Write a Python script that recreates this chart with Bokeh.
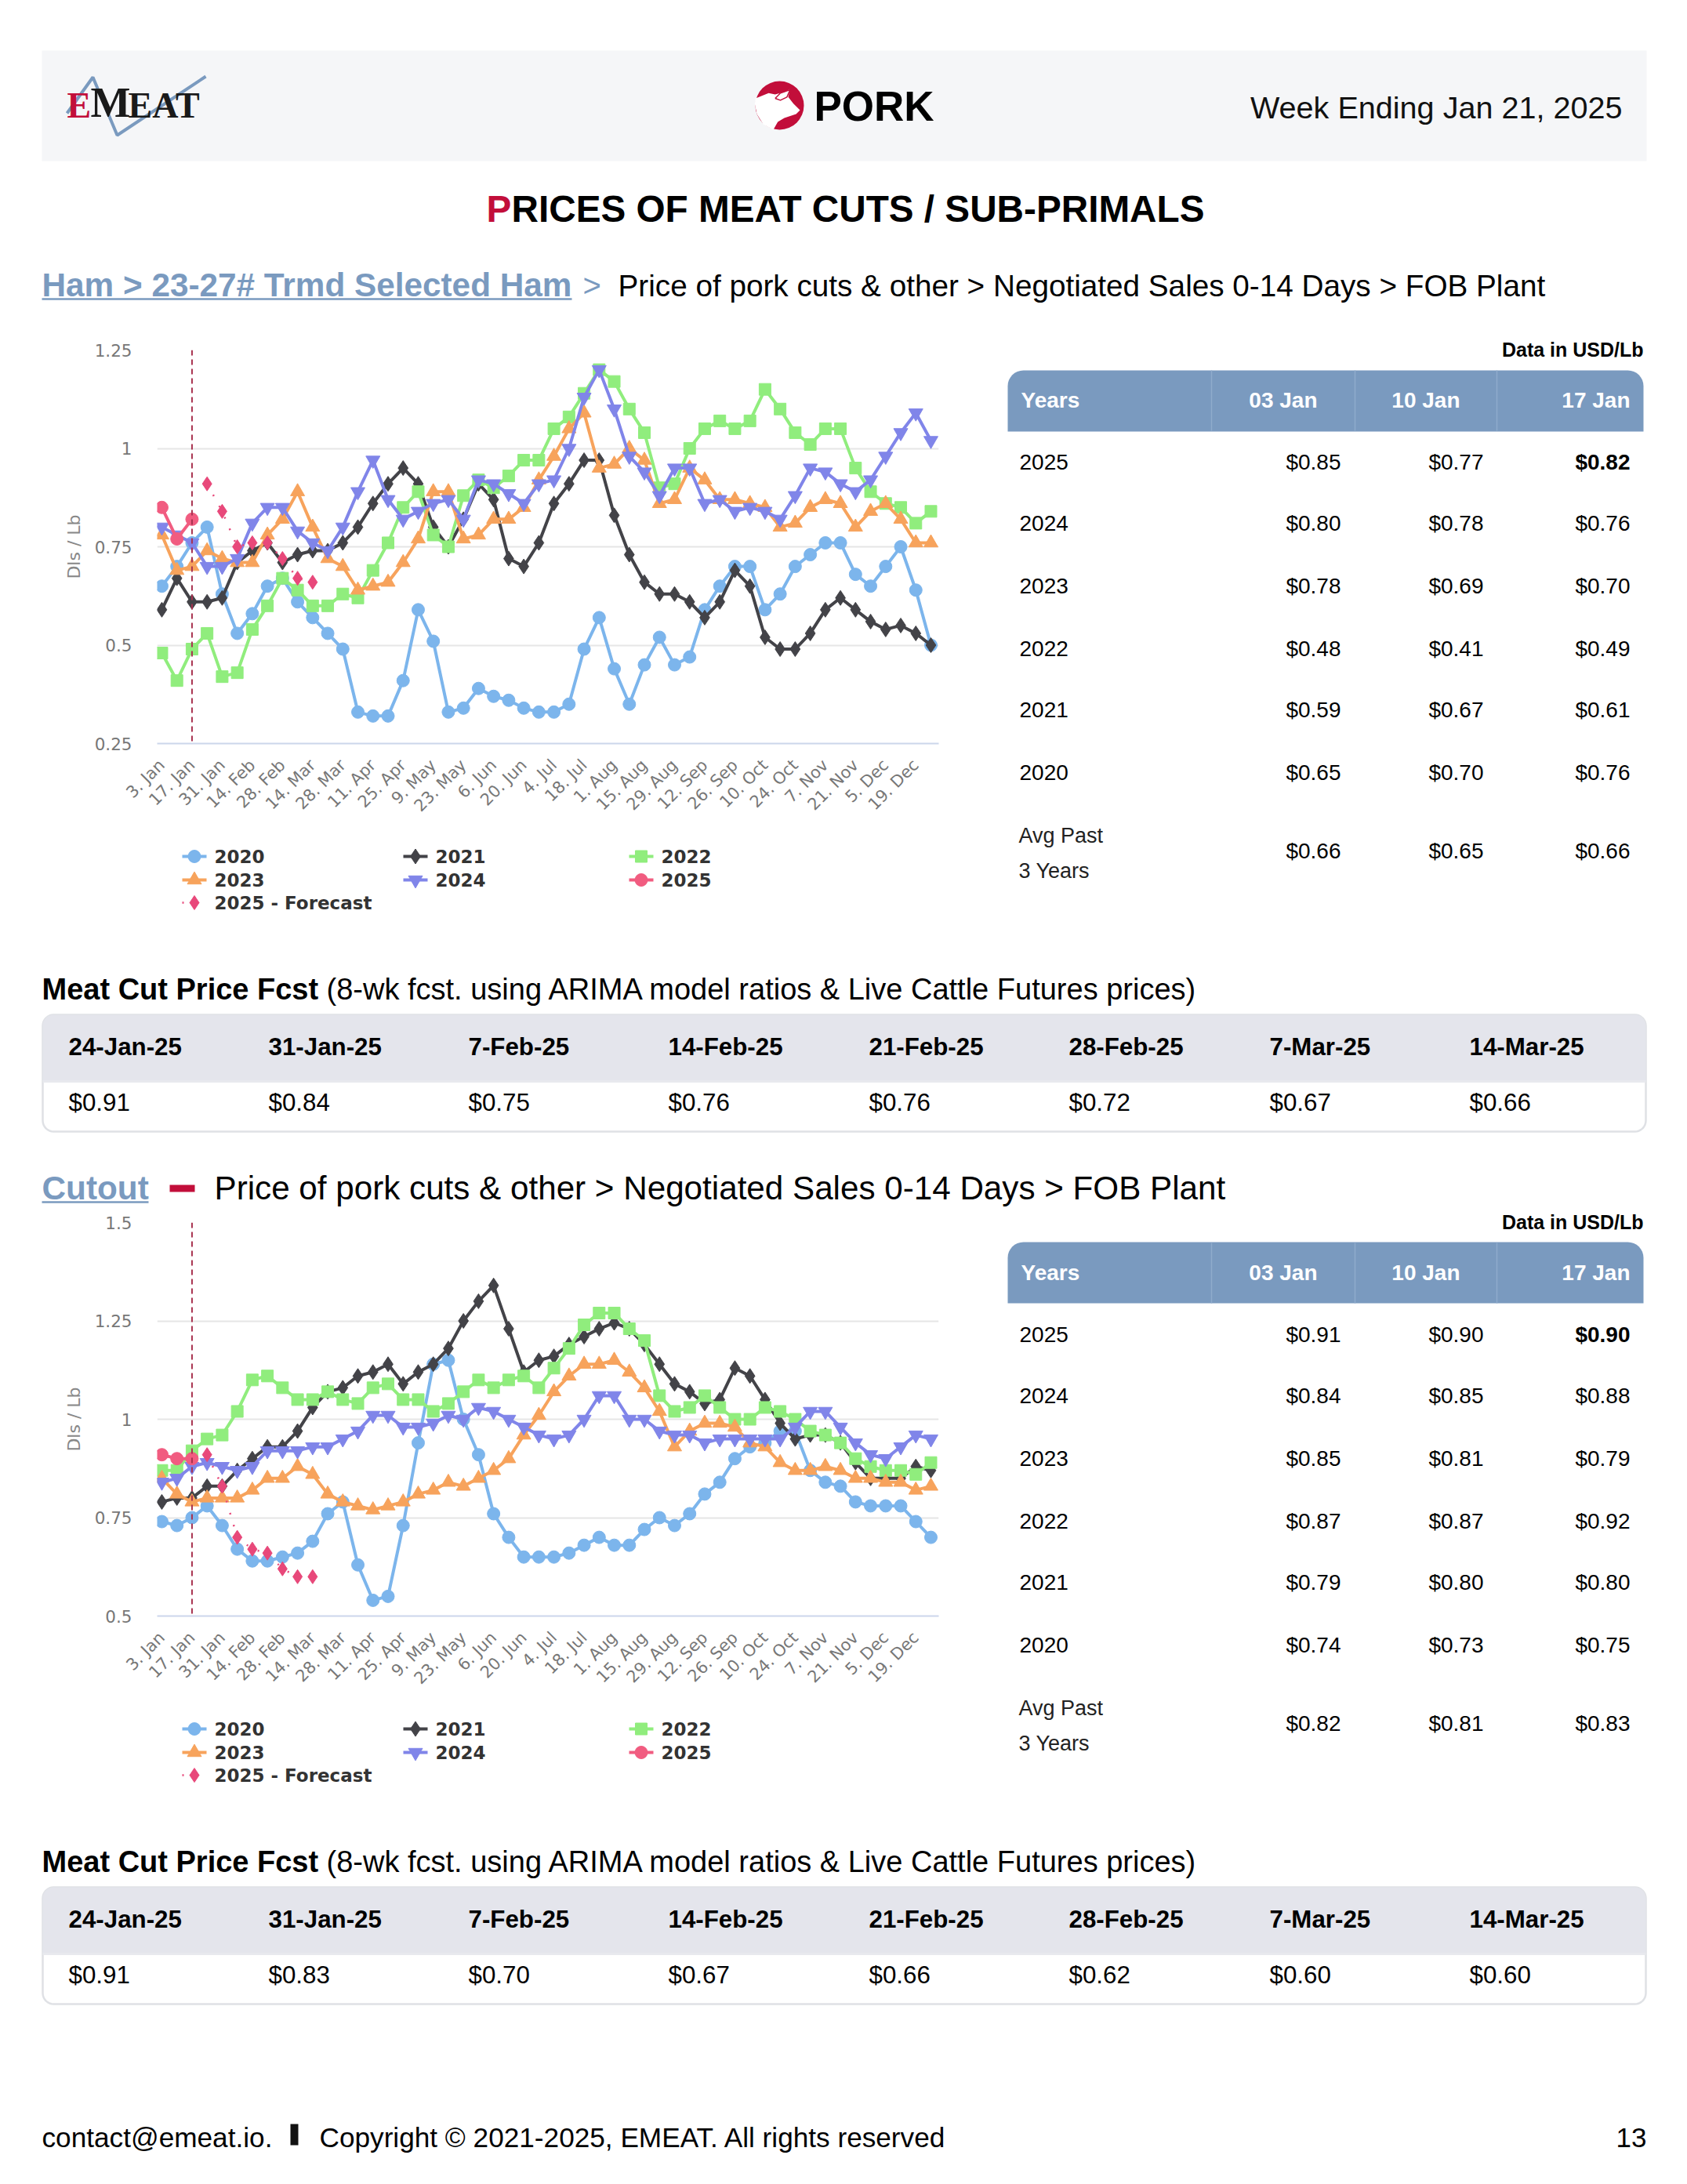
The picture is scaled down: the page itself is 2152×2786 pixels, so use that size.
import math
from bokeh.plotting import figure
from bokeh.layouts import column, row
from bokeh.models import Range1d, FixedTicker, Span
from bokeh.core.properties import value
from bokeh.embed import file_html
from bokeh.resources import INLINE

week_labels = ["3. Jan","17. Jan","31. Jan","14. Feb","28. Feb","14. Mar","28. Mar","11. Apr","25. Apr","9. May","23. May","6. Jun","20. Jun",
               "4. Jul","18. Jul","1. Aug","15. Aug","29. Aug","12. Sep","26. Sep","10. Oct","24. Oct","7. Nov","21. Nov","5. Dec","19. Dec"]

ham_2020 = [.65,.70,.76,.80,.63,.53,.58,.65,.67,.61,.57,.53,.49,.33,.32,.32,.41,.59,.51,.33,.34,.39,.37,.36,.34,.33,.33,.35,.49,.57,.44,.35,.45,.52,.45,.47,.59,.65,.70,.70,.59,.63,.70,.73,.76,.76,.68,.65,.70,.75,.64,.50]
ham_2021 = [.59,.67,.61,.61,.62,.71,.74,.76,.71,.73,.74,.74,.76,.80,.86,.91,.95,.91,.80,.75,.82,.91,.87,.72,.70,.76,.86,.91,.97,.97,.83,.73,.66,.63,.63,.61,.57,.61,.69,.65,.52,.49,.49,.53,.59,.62,.59,.56,.54,.55,.53,.50]
ham_2022 = [.48,.41,.49,.53,.42,.43,.54,.60,.67,.64,.60,.60,.63,.62,.69,.76,.85,.89,.78,.75,.88,.92,.90,.93,.97,.97,1.05,1.08,1.14,1.20,1.17,1.10,1.04,.90,.91,1.00,1.05,1.07,1.05,1.07,1.15,1.10,1.04,1.01,1.05,1.05,.95,.89,.86,.85,.81,.84]
ham_2023 = [.78,.69,.70,.74,.72,.71,.71,.78,.82,.89,.80,.72,.70,.64,.65,.66,.71,.77,.89,.89,.77,.78,.82,.82,.85,.92,.98,1.05,1.09,.95,.96,1.00,.97,.86,.87,.95,.92,.87,.87,.86,.85,.80,.81,.85,.87,.86,.80,.84,.86,.82,.76,.76]
ham_2024 = [.80,.78,.76,.70,.70,.72,.81,.85,.85,.79,.76,.74,.80,.89,.97,.87,.82,.84,.86,.87,.82,.92,.91,.885,.86,.91,.92,1.00,1.13,1.20,1.10,.98,.94,.88,.95,.95,.86,.87,.84,.85,.84,.82,.88,.95,.94,.91,.89,.92,.98,1.04,1.09,1.02]
ham_2025 = [.85,.77,.82]
ham_forecast = [.91,.84,.75,.76,.76,.72,.67,.66]

cut_2020 = [.74,.73,.75,.78,.73,.67,.64,.64,.65,.66,.69,.76,.79,.63,.54,.55,.73,.94,1.14,1.15,1.00,.91,.76,.70,.65,.65,.65,.66,.68,.70,.68,.68,.72,.75,.73,.76,.81,.84,.90,.93,.94,.97,.97,.87,.84,.83,.79,.78,.78,.78,.74,.70]
cut_2021 = [.79,.80,.80,.83,.83,.87,.90,.93,.93,.97,1.03,1.07,1.08,1.11,1.12,1.14,1.09,1.12,1.14,1.18,1.25,1.30,1.34,1.23,1.12,1.15,1.16,1.19,1.21,1.23,1.245,1.23,1.19,1.14,1.09,1.07,1.04,1.05,1.13,1.11,1.05,.99,.95,.96,.96,.94,.89,.85,.85,.85,.88,.87]
cut_2022 = [.87,.87,.92,.95,.96,1.02,1.10,1.11,1.08,1.05,1.05,1.07,1.05,1.04,1.08,1.09,1.05,1.05,1.02,1.04,1.07,1.10,1.08,1.10,1.11,1.08,1.13,1.18,1.24,1.27,1.27,1.23,1.20,1.06,1.02,1.03,1.06,1.03,1.00,1.00,1.03,1.02,1.00,.97,.96,.94,.90,.88,.87,.87,.86,.89]
cut_2023 = [.85,.81,.79,.80,.80,.80,.82,.85,.85,.88,.86,.81,.79,.78,.77,.78,.79,.81,.82,.84,.83,.85,.87,.90,.96,1.01,1.07,1.11,1.14,1.14,1.15,1.12,1.08,1.02,.93,.97,.99,.99,.98,.94,.93,.89,.87,.87,.88,.87,.85,.85,.84,.84,.82,.83]
cut_2024 = [.84,.85,.88,.89,.88,.87,.88,.92,.92,.92,.93,.93,.95,.97,1.01,1.01,.98,.98,.99,1.01,1.00,1.03,1.02,1.00,.98,.96,.95,.96,1.00,1.06,1.06,1.00,1.00,.97,.96,.96,.94,.95,.95,.95,.95,.95,.98,1.02,1.02,.98,.94,.91,.90,.93,.96,.95]
cut_2025 = [.91,.90,.90]
cut_forecast = [.91,.83,.70,.67,.66,.62,.60,.60]

ham_ticks = [.25,.5,.75,1,1.25]
ham_tick_labels = ["0.25","0.5","0.75","1","1.25"]
cut_ticks = [.5,.75,1,1.25,1.5]
cut_tick_labels = ["0.5","0.75","1","1.25","1.5"]

legend_names = ["2020","2021","2022","2023","2024","2025"]
legend_colors = ["#7cb5ec","#434348","#90ed7d","#f7a35c","#8085e9","#f15c80"]
legend_markers = ["circle","diamond","square","triangle","inverted_triangle","circle"]
forecast_name = "2025 - Forecast"
forecast_color = "#e8487a"

table_cols = ["03 Jan","10 Jan","17 Jan"]
table_years = ["2025","2024","2023","2022","2021","2020"]
ham_table = [["$0.85","$0.77","$0.82"],["$0.80","$0.78","$0.76"],["$0.78","$0.69","$0.70"],["$0.48","$0.41","$0.49"],["$0.59","$0.67","$0.61"],["$0.65","$0.70","$0.76"]]
ham_avg = ["$0.66","$0.65","$0.66"]
cut_table = [["$0.91","$0.90","$0.90"],["$0.84","$0.85","$0.88"],["$0.85","$0.81","$0.79"],["$0.87","$0.87","$0.92"],["$0.79","$0.80","$0.80"],["$0.74","$0.73","$0.75"]]
cut_avg = ["$0.82","$0.81","$0.83"]

fc_dates = ["24-Jan-25","31-Jan-25","7-Feb-25","14-Feb-25","21-Feb-25","28-Feb-25","7-Mar-25","14-Mar-25"]
ham_fc = ["$0.91","$0.84","$0.75","$0.76","$0.76","$0.72","$0.67","$0.66"]
cut_fc = ["$0.91","$0.83","$0.70","$0.67","$0.66","$0.62","$0.60","$0.60"]

SANS = "Liberation Sans"
BLUE = "#7a9abf"
RED = "#c20e3a"
DY = 1113
SIZES = {"circle": 16, "diamond": 19, "square": 15, "triangle": 18, "inverted_triangle": 18}


def canvas(x0, x1, y0, y1):
    p = figure(width=x1 - x0, height=y1 - y0, x_range=Range1d(x0, x1), y_range=Range1d(y1, y0),
               x_axis_type=None, y_axis_type=None, output_backend="svg", toolbar_location=None,
               min_border=0, outline_line_color=None, frame_align=False)
    return p


def T(p, x, y, s, size, color="#000000", bold=False, align="left", font=SANS):
    p.text(x=[x], y=[y], text=[s], text_font=value(font), text_font_size=f"{size}px",
           text_font_style="bold" if bold else "normal", text_color=color,
           text_align=align, text_baseline="middle")


def rounded(x0, y0, x1, y1, rtop, rbot):
    xs, ys = [], []
    for cx, cy, r, a0 in [(x0 + rtop, y0 + rtop, rtop, 180), (x1 - rtop, y0 + rtop, rtop, 270),
                          (x1 - rbot, y1 - rbot, rbot, 0), (x0 + rbot, y1 - rbot, rbot, 90)]:
        for k in range(9):
            a = math.radians(a0 + k * 90 / 8)
            xs.append(cx + r * math.cos(a))
            ys.append(cy + r * math.sin(a))
    return xs, ys


def chart(ys, ticks, tick_labels, actual, forecast, top_border, height):
    p = figure(frame_width=997, frame_height=502, width=1240, height=height,
               x_range=Range1d(-0.31, 51.52), y_range=Range1d(ticks[0], ticks[-1]),
               output_backend="svg", toolbar_location=None, outline_line_color=None,
               min_border_left=200, min_border_right=43, min_border_top=top_border,
               min_border_bottom=height - 502 - top_border, frame_align=False)
    xa, ya = p.xaxis[0], p.yaxis[0]
    xa.ticker = FixedTicker(ticks=list(range(0, 52, 2)))
    xa.major_label_overrides = {i * 2: s for i, s in enumerate(week_labels)}
    xa.major_label_orientation = math.pi / 4
    xa.major_label_text_font = "DejaVu Sans"
    xa.major_label_text_font_size = "21px"
    xa.major_label_text_color = "#777777"
    xa.major_label_standoff = 18
    xa.axis_line_color = "#ccd6eb"
    xa.axis_line_width = 2
    xa.major_tick_line_color = None
    xa.minor_tick_line_color = None
    ya.ticker = FixedTicker(ticks=ticks)
    ya.major_label_overrides = dict(zip(ticks, tick_labels))
    ya.major_label_text_font = "DejaVu Sans"
    ya.major_label_text_font_size = "21.5px"
    ya.major_label_text_color = "#777777"
    ya.major_label_standoff = 26
    ya.axis_line_color = None
    ya.major_tick_line_color = None
    ya.minor_tick_line_color = None
    ya.axis_label = "Dls / Lb"
    ya.axis_label_text_font = "DejaVu Sans"
    ya.axis_label_text_font_size = "22px"
    ya.axis_label_text_font_style = "normal"
    ya.axis_label_text_color = "#888888"
    ya.axis_label_standoff = 11
    p.xgrid.visible = False
    p.ygrid.grid_line_color = "#e6e6e6"
    p.ygrid.grid_line_width = 2
    p.add_layout(Span(location=2, dimension="height", line_color="#a8324f", line_dash="7 5", line_width=2))
    for col, mk, y in zip(legend_colors, legend_markers, ys + [actual]):
        x = list(range(len(y)))
        p.line(x, y, line_color=col, line_width=4)
        p.scatter(x, y, marker=mk, size=SIZES[mk], fill_color=col, line_color=col)
    fx = list(range(3, 3 + len(forecast)))
    p.line(fx, forecast, line_color=forecast_color, line_width=2.5, line_dash="2 14")
    p.scatter(fx, forecast, marker="diamond", size=18, fill_color=forecast_color, line_color=forecast_color)
    return p


def legend_strip(y0, y1, dy):
    p = canvas(0, 1240, y0, y1)
    col_x = (232, 514, 802)
    row_y = (1092, 1122, 1151)
    for i, (name, col, mk) in enumerate(zip(legend_names, legend_colors, legend_markers)):
        x, yy = col_x[i % 3], row_y[i // 3] + dy
        p.line([x, x + 31], [yy, yy], line_color=col, line_width=4)
        p.scatter([x + 15.5], [yy], marker=mk, size=SIZES[mk], fill_color=col, line_color=col)
        T(p, x + 41, yy, name, 23, "#333333", bold=True, font="DejaVu Sans")
    x, yy = col_x[0], row_y[2] + dy
    p.line([x, x + 31], [yy, yy], line_color=forecast_color, line_width=2.5, line_dash="2 14")
    p.scatter([x + 15.5], [yy], marker="diamond", size=18, fill_color=forecast_color, line_color=forecast_color)
    T(p, x + 41, yy, forecast_name, 23, "#333333", bold=True, font="DejaVu Sans")
    return p


def price_table(y0, y1, dy, rows, avg):
    p = canvas(1240, 2144, y0, y1)
    T(p, 2096, 445 + dy, "Data in USD/Lb", 25, bold=True, align="right")
    xs, ys = rounded(1285, 472 + dy - (1 if dy else 0), 2096, 550 + dy - (1 if dy else 0), 20, 0.01)
    p.patch(xs, ys, fill_color=BLUE, line_color=None)
    for sx in (1545, 1728, 1909):
        p.line([sx, sx], [472 + dy, 549 + dy], line_color="#8fabcc", line_width=1.5)
    T(p, 1302, 510 + dy, "Years", 28, "#ffffff", bold=True)
    heads_x = (1680, 1862, 2079)
    vals_x = (1710, 1892, 2079)
    for hx, c in zip(heads_x, table_cols):
        T(p, hx, 510 + dy, c, 28, "#ffffff", bold=True, align="right")
    row_y = (589, 667, 747, 827, 905, 985)
    for ry, yr, vals in zip(row_y, table_years, rows):
        T(p, 1300, ry + dy, yr, 28)
        for i, (vx, v) in enumerate(zip(vals_x, vals)):
            T(p, vx, ry + dy, v, 28, bold=(yr == "2025" and i == 2), align="right")
    T(p, 1299, 1065 + dy, "Avg Past", 27, "#222222")
    T(p, 1299, 1110 + dy, "3 Years", 27, "#222222")
    for vx, v in zip(vals_x, avg):
        T(p, vx, 1085 + dy, v, 28, align="right")
    return p


def fc_block(p, dy, values):
    T(p, 53, 1261 + dy, "Meat Cut Price Fcst", 38, bold=True)
    T(p, 416, 1261 + dy, "(8-wk fcst. using ARIMA model ratios & Live Cattle Futures prices)", 38)
    xs, ys = rounded(54, 1294 + dy, 2099, 1443 + dy, 14, 14)
    p.patch(xs, ys, fill_color="#ffffff", line_color="#dfe1e5", line_width=2.5)
    xs, ys = rounded(54, 1294 + dy, 2099, 1378 + dy, 14, 0.01)
    p.patch(xs, ys, fill_color="#e4e5ec", line_color=None)
    p.line([54, 2099], [1379 + dy, 1379 + dy], line_color="#e8e9ee", line_width=3)
    col_x = (87, 342, 597, 852, 1108, 1363, 1619, 1874)
    for cx, d, v in zip(col_x, fc_dates, values):
        T(p, cx, 1335 + dy, d, 31.3, bold=True)
        T(p, cx, 1406 + dy, v, 31.3)


# --- band A: page header and first breadcrumb
a = canvas(0, 2144, 0, 420)
a.quad(left=[53], right=[2100], top=[64], bottom=[205], fill_color="#f5f6f8", line_color=None)
a.line([85, 118, 149, 262], [144, 98, 172, 97], line_color="#7a9abf", line_width=4)
T(a, 85, 134, "E", 46, RED, bold=True, font="Liberation Serif")
T(a, 115, 130, "M", 54, "#1a1a1a", bold=True, font="Liberation Serif")
T(a, 163, 134, "EAT", 46, "#1a1a1a", bold=True, font="Liberation Serif")
a.circle(x=[994], y=[134], radius=31, fill_color=RED, line_color=None)
pig_zx = [40, 90, 115, 150, 172, 165, 185, 210, 195, 150, 125, 108, 70, 45, 37]
pig_zy = [105, 85, 90, 80, 70, 100, 125, 150, 165, 180, 195, 225, 205, 165, 125]
a.patch([950 + v / 3 for v in pig_zx], [90 + v / 3 for v in pig_zy], fill_color="#ffffff", line_color=None)
a.line([950 + v / 3 for v in (115, 135, 172, 160, 135, 115)], [90 + v / 3 for v in (105, 85, 72, 100, 112, 105)],
       line_color=RED, line_width=1.5)
T(a, 1038, 135, "PORK", 53, bold=True)
T(a, 2069, 136, "Week Ending Jan 21, 2025", 39.6, "#111111", align="right")
T(a, 620, 266, "P", 47.7, RED, bold=True)
T(a, 652, 266, "RICES OF MEAT CUTS / SUB-PRIMALS", 47.7, bold=True)
T(a, 53, 363, "Ham > 23-27# Trmd Selected Ham", 42.3, BLUE, bold=True)
a.line([53, 729], [381, 381], line_color=BLUE, line_width=2.5)
T(a, 743, 363, ">", 40, BLUE)
T(a, 788, 364, "Price of pork cuts & other > Negotiated Sales 0-14 Days > FOB Plant", 38.7)

# --- band B: first chart and table
chart1 = chart([ham_2020, ham_2021, ham_2022, ham_2023, ham_2024], ham_ticks, ham_tick_labels, ham_2025, ham_forecast, 26, 650)
legend1 = legend_strip(1070, 1200, 0)
table1 = price_table(420, 1200, 0, ham_table, ham_avg)

# --- band C: first forecast table and second breadcrumb
c = canvas(0, 2144, 1200, 1540)
fc_block(c, 0, ham_fc)
T(c, 53, 1515, "Cutout", 42.3, BLUE, bold=True)
c.line([53, 189], [1533, 1533], line_color=BLUE, line_width=2.5)
c.quad(left=[216], right=[248], top=[1511], bottom=[1520], fill_color=RED, line_color=None)
T(c, 273, 1515, "Price of pork cuts & other > Negotiated Sales 0-14 Days > FOB Plant", 42.2)

# --- band D: second chart and table
chart2 = chart([cut_2020, cut_2021, cut_2022, cut_2023, cut_2024], cut_ticks, cut_tick_labels, cut_2025, cut_forecast, 19, 643)
legend2 = legend_strip(2183, 2313, DY)
table2 = price_table(1540, 2313, DY, cut_table, cut_avg)

# --- band E: second forecast table and footer
e = canvas(0, 2144, 2313, 2778)
fc_block(e, DY, cut_fc)
T(e, 53, 2726, "contact@emeat.io.", 35.2)
e.quad(left=[370], right=[380], top=[2709], bottom=[2736], fill_color="#111111", line_color=None)
T(e, 407, 2726, "Copyright © 2021-2025, EMEAT. All rights reserved", 35.2)
T(e, 2100, 2726, "13", 35, align="right")

page = column(a, row(column(chart1, legend1, spacing=0), table1, spacing=0), c,
              row(column(chart2, legend2, spacing=0), table2, spacing=0), e, spacing=0)
open("out.html", "w").write(file_html(page, INLINE))
